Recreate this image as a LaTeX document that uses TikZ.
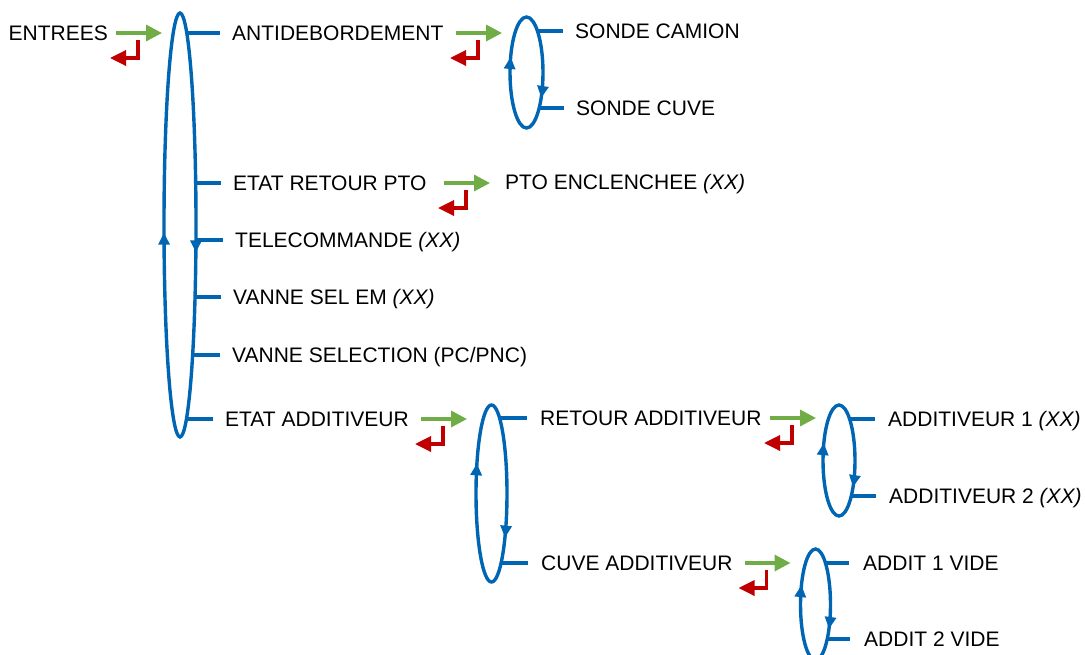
\documentclass[tikz,border=0pt]{standalone}
\usepackage{fontspec}
\setmainfont{Liberation Sans}
\usetikzlibrary{arrows.meta, shapes.geometric, decorations.markings, backgrounds}
\definecolor{ring-blue}{RGB}{0,102,179}
\definecolor{go-green}{RGB}{112,173,71}
\definecolor{back-red}{RGB}{192,0,0}

% green arrow in, red arrow back: label, target, gap before target
\newcommand{\inout}[3]{%
  \draw[fwd] ([xshift=-#3-46pt]#2.west |- #1) -- ([xshift=-#3]#2.west |- #1);
  \draw[bwd] ([xshift=-#3-24pt,yshift=-7pt]#2.west |- #1) |- ([xshift=-#3-52pt,yshift=-25pt]#2.west |- #1);
}

\begin{document}
\begin{tikzpicture}[
  x=1pt, y=-1pt,
  every node/.style={font=\fontsize{21}{25}\selectfont},
  lbl/.style={anchor=west, inner sep=0pt, text height=15pt, text depth=0pt},
  ring/.style 2 args={ellipse, draw=ring-blue, line width=3.4pt, fill=white, inner sep=0pt, outer sep=0pt,
    postaction={decorate, decoration={markings,
      mark=at position #1 with {\arrowreversed{Triangle[length=12pt,width=11pt]}},
      mark=at position #2 with {\arrowreversed{Triangle[length=12pt,width=11pt]}}}}},
  stub/.style={draw=ring-blue, line width=3.4pt},
  fwd/.style={draw=go-green, line width=3.4pt, -{Triangle[length=16pt,width=16pt]}},
  bwd/.style={draw=back-red, line width=3.4pt, -{Triangle[length=16pt,width=15pt]}},
]
  \useasboundingbox (0,0) rectangle (1085,654);

  \node[lbl, anchor=east] (entrees) at (108,33) {ENTREES};
  \node[ring={0.509}{0.968}, minimum width=32pt, minimum height=424pt] (main) at (180,225) {};
  \node[lbl] (antid)   at (232,33)  {ANTIDEBORDEMENT};
  \node[lbl] (etatpto) at (233,183) {ETAT RETOUR PTO};
  \node[lbl] (telecom) at (235,240) {TELECOMMANDE \textit{(XX)}};
  \node[lbl] (vsel)    at (233,297) {VANNE SEL EM \textit{(XX)}};
  \node[lbl] (vselpc)  at (232,355) {VANNE SELECTION (PC/PNC)};
  \node[lbl] (etatadd) at (225,419) {ETAT ADDITIVEUR};

  \node[ring={0.436}{0.895}, minimum width=33pt, minimum height=111pt] (sonde) at (526.5,72.5) {};
  \node[lbl] (camion)    at (575,31)  {SONDE CAMION};
  \node[lbl] (cuvesonde) at (576,108) {SONDE CUVE};

  \node[lbl] (pto) at (505,182) {PTO ENCLENCHEE \textit{(XX)}};

  \node[ring={0.418}{0.880}, minimum width=31pt, minimum height=177pt] (additv) at (491.5,493.5) {};
  \node[lbl] (retour)  at (540,418) {RETOUR ADDITIVEUR};
  \node[lbl] (cuveadd) at (541,563) {CUVE ADDITIVEUR};

  \node[ring={0.428}{0.890}, minimum width=32pt, minimum height=111pt] (retloop) at (839,460.5) {};
  \node[lbl] (add1) at (888,419) {ADDITIVEUR 1 \textit{(XX)}};
  \node[lbl] (add2) at (889,496) {ADDITIVEUR 2 \textit{(XX)}};

  \node[ring={0.419}{0.898}, minimum width=30pt, minimum height=111pt] (cuveloop) at (815.5,604.5) {};
  \node[lbl] (vide1) at (863,563) {ADDIT 1 VIDE};
  \node[lbl] (vide2) at (864,639) {ADDIT 2 VIDE};

  \begin{scope}[on background layer]
    \foreach \n in {antid, etatpto, telecom, vsel, vselpc, etatadd}
      \draw[stub] (main.center |- \n) -- ([xshift=-12pt]\n.west);
    \foreach \n in {camion, cuvesonde}
      \draw[stub] (sonde.center |- \n) -- ([xshift=-12pt]\n.west);
    \foreach \n in {retour, cuveadd}
      \draw[stub] (additv.center |- \n) -- ([xshift=-13pt]\n.west);
    \foreach \n in {add1, add2}
      \draw[stub] (retloop.center |- \n) -- ([xshift=-13pt]\n.west);
    \foreach \n in {vide1, vide2}
      \draw[stub] (cuveloop.center |- \n) -- ([xshift=-14pt]\n.west);
  \end{scope}

  \inout{entrees}{main}{2pt}
  \inout{antid}{sonde}{8pt}
  \inout{etatpto}{pto}{15pt}
  \inout{etatadd}{additv}{9pt}
  \inout{retour}{retloop}{7pt}
  \inout{cuveadd}{cuveloop}{10pt}
\end{tikzpicture}
\end{document}
